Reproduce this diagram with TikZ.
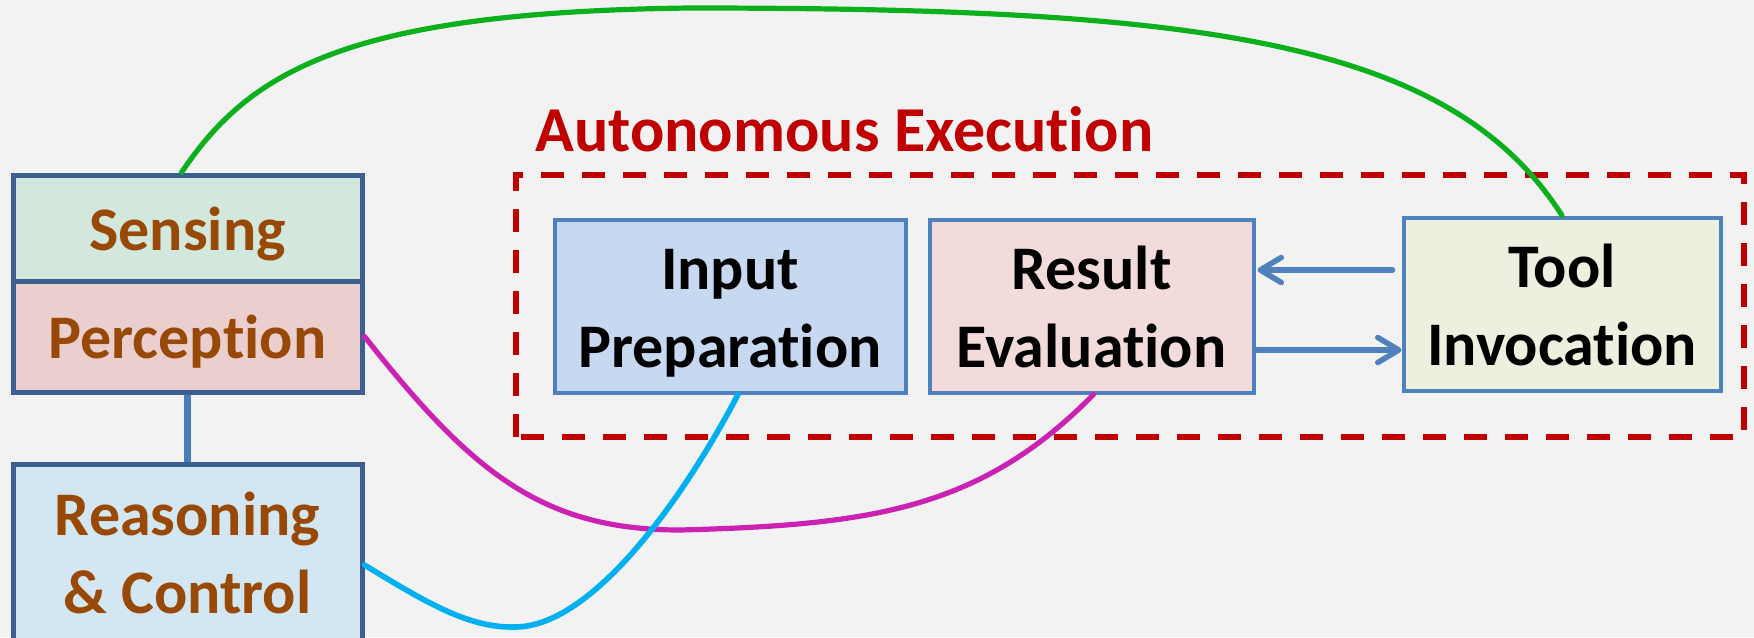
\documentclass[tikz,border=0pt]{standalone}
\usepackage{fontspec}
\setmainfont{Carlito}[Ligatures={NoCommon,NoContextual}]
\usetikzlibrary{arrows.meta}

\definecolor{bg}{HTML}{F2F2F2}
\definecolor{leftborder}{HTML}{3C5F8E}
\definecolor{stageborder}{HTML}{4F81BD}
\definecolor{linkblue}{HTML}{4A7EBB}
\definecolor{brownText}{HTML}{984807}
\definecolor{darkred}{HTML}{C00000}
\definecolor{senseFill}{HTML}{D2E8DC}
\definecolor{percFill}{HTML}{EBCFCF}
\definecolor{reasFill}{HTML}{D2E7F1}
\definecolor{inputFill}{HTML}{C6D9F1}
\definecolor{resultFill}{HTML}{F2DCDB}
\definecolor{toolFill}{HTML}{EBF1DE}
\definecolor{greenLink}{HTML}{0CB01C}
\definecolor{magentaLink}{HTML}{CC22B4}
\definecolor{cyanLink}{HTML}{00B0F0}

% body font with a line box of 1.22em (ascent 0.97em, descent 0.25em)
\newcommand\boxfont{\fontsize{31pt}{37.82pt}\selectfont\bfseries}
\newcommand\ls{\rule[-0.25em]{0pt}{1.22em}}

\begin{document}
\begin{tikzpicture}[x=0.5pt,y=-0.5pt,
  leftbox/.style={draw=leftborder, line width=2.5pt, minimum width=174.5pt,
    inner sep=0pt, text=brownText, font=\boxfont, align=center},
  stage/.style={draw=stageborder, line width=2pt, minimum height=86.5pt,
    inner sep=0pt, text=black, font=\boxfont, align=center},
  flow/.style={draw=stageborder, line width=2.75pt, line cap=round,
    -{Straight Barb[length=10.5pt,width=12.5pt,line cap=round,line join=round]}},
  curve/.style={line width=2.6pt, line cap=round}]

\useasboundingbox (0,0) rectangle (1754,637);
\fill[bg] (0,0) rectangle (1754,637);

% execution frame and its title
\draw[darkred, line width=3pt, dash pattern=on 11.5pt off 9pt]
  (516,437) -- (516,175) -- (1744,175) -- (1744,437) -- cycle;
\node[anchor=base west, inner sep=0pt, text=darkred,
  font=\fontsize{32pt}{38pt}\selectfont\bfseries] (title) at (535,151)
  {Autonomous Execution};

% left column
\node[leftbox, fill=senseFill, minimum height=53pt] (sensing) at (187.5,228) {\ls Sensing};
\node[leftbox, fill=percFill, minimum height=55.5pt] (perception) at (187.5,336.5) {\ls Perception};
\node[leftbox, fill=reasFill, minimum height=88pt] (reasoning) at (187.5,552) {\ls Reasoning\\\ls \& Control};
\draw[linkblue, line width=3.5pt] (perception.south) -- (reasoning.north);

% execution stages
\node[stage, fill=inputFill, minimum width=175.5pt] (input) at (730,306) {\ls Input\\\ls Preparation};
\node[stage, fill=resultFill, minimum width=162pt] (result) at (1091.5,306) {\ls Result\\\ls Evaluation};
\node[stage, fill=toolFill, minimum width=158.5pt] (tool) at (1562,304) {\ls Tool\\\ls Invocation};

\coordinate (upper) at (0,270);
\coordinate (lower) at (0,350);
\draw[flow] ([xshift=-4.5pt]tool.west |- upper) -- ([xshift=1pt]result.east |- upper);
\draw[flow] (result.east |- lower) -- (tool.west |- lower);

% links between the column and the stages
\coordinate (rsStart) at (0,565);
\draw[curve, greenLink] ([xshift=-3pt]sensing.north)
  .. controls (250,70) and (350,12) .. (690,8)
  .. controls (1200,8) and (1450,40) .. (tool.north);
\draw[curve, magentaLink] (perception.east)
  .. controls (470,470) and (540,530) .. (680,530)
  .. controls (870,525) and (980,510) .. ([xshift=1pt]result.south);
\draw[curve, cyanLink, line width=2.8pt] (reasoning.east |- rsStart)
  .. controls (430,605) and (470,628) .. (515,627)
  .. controls (590,627) and (680,505) .. ([xshift=4pt]input.south);
\end{tikzpicture}
\end{document}
